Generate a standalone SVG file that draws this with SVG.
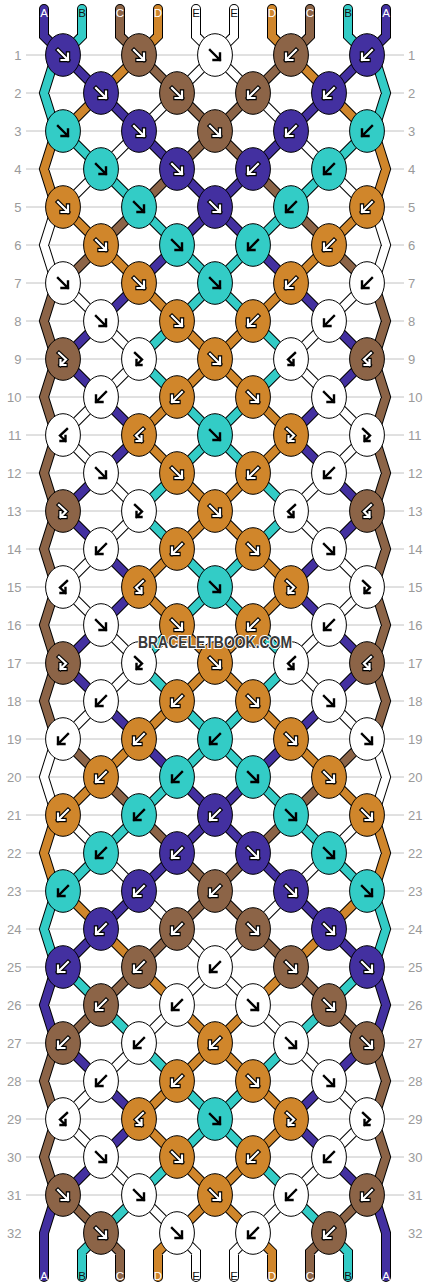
<svg xmlns="http://www.w3.org/2000/svg" xmlns:xlink="http://www.w3.org/1999/xlink" width="430" height="1288" viewBox="0 0 430 1288">
<style>
.grid{fill:none;stroke:#c2c2c2;stroke-width:1}
.num{font-family:"Liberation Sans",Arial,sans-serif;font-size:13px;fill:#9a9a9a}
.l{text-anchor:end}
.o{fill:none;stroke:#000;stroke-width:10;stroke-linecap:round;stroke-linejoin:miter}
.cA{fill:none;stroke:#4330a0;stroke-width:8;stroke-linecap:round}
.cB{fill:none;stroke:#33ccc6;stroke-width:8;stroke-linecap:round}
.cC{fill:none;stroke:#8c6447;stroke-width:8;stroke-linecap:round}
.cD{fill:none;stroke:#d0862b;stroke-width:8;stroke-linecap:round}
.cE{fill:none;stroke:#ffffff;stroke-width:8;stroke-linecap:round}
.lab{font-family:"Liberation Sans",Arial,sans-serif;font-size:11.5px;text-anchor:middle}
.lw{fill:#fff}.lk{fill:#111}
ellipse{stroke:#000;stroke-width:1}
.kA{fill:#4330a0}.kB{fill:#33ccc6}.kC{fill:#8c6447}.kD{fill:#d0862b}.kE{fill:#fff}
.ak{fill:none;stroke:#000;stroke-width:2.4;stroke-linecap:square}
.ao{fill:none;stroke:#000;stroke-width:4.4;stroke-linecap:square}
.aw{fill:none;stroke:#fff;stroke-width:2.2;stroke-linecap:square}
.wm{font-family:"Liberation Sans",Arial,sans-serif;font-weight:bold;font-size:16px;fill:#383838;stroke:#fff;stroke-width:2;paint-order:stroke;text-anchor:middle}
</style>
<defs>
<path id="pf" d="M-5-5L5 5M5-1.5V5H-1.5"/>
<path id="pb" d="M5-5L-5 5M-5-1.5V5H1.5"/>
<path id="pfb" d="M-4-6L3 0.5L-2.5 6M-2.5 1V6H2.5"/>
<path id="pbf" d="M4-6L-3 0.5L2.5 6M2.5 1V6H-2.5"/>
<g id="Fk"><use href="#pf" class="ak"/></g>
<g id="Fw"><use href="#pf" class="ao"/><use href="#pf" class="aw"/></g>
<g id="Bk"><use href="#pb" class="ak"/></g>
<g id="Bw"><use href="#pb" class="ao"/><use href="#pb" class="aw"/></g>
<g id="FBk"><use href="#pfb" class="ak"/></g>
<g id="FBw"><use href="#pfb" class="ao"/><use href="#pfb" class="aw"/></g>
<g id="BFk"><use href="#pbf" class="ak"/></g>
<g id="BFw"><use href="#pbf" class="ao"/><use href="#pbf" class="aw"/></g>
<path id="sA" d="M44 9V36L63 55M386 9V36L367 55M63 55l38 38M367 55l-38 38M101 93l38 38M329 93l-38 38M139 131l38 38M291 131l-38 38M177 169l38 38M253 169l-38 38M215 207l-38 38M215 207l38 38M177 245l-38 38M253 245l38 38M139 283l-38 38M291 283l38 38M101 321l-38 38M329 321l38 38M63 359l38 38M367 359l-38 38M101 397l38 38M329 397l-38 38M139 435l-38 38M291 435l38 38M101 473l-38 38M329 473l38 38M63 511l38 38M367 511l-38 38M101 549l38 38M329 549l-38 38M139 587l-38 38M291 587l38 38M101 625l-38 38M329 625l38 38M63 663l38 38M367 663l-38 38M101 701l38 38M329 701l-38 38M139 739l38 38M291 739l-38 38M177 777l38 38M253 777l-38 38M215 815l-38 38M215 815l38 38M177 853l-38 38M253 853l38 38M139 891l-38 38M291 891l38 38M101 929l-38 38M329 929l38 38M56 967L44 1005L56 1043M374 967L386 1005L374 1043M63 1043l38 38M367 1043l-38 38M101 1081l38 38M329 1081l-38 38M139 1119l-38 38M291 1119l38 38M101 1157l-38 38M329 1157l38 38M56 1195L44 1233V1277M374 1195L386 1233V1277"/>
<path id="sB" d="M82 9V36L63 55M348 9V36L367 55M56 55L44 93L56 131M374 55L386 93L374 131M63 131l38 38M367 131l-38 38M101 169l38 38M329 169l-38 38M139 207l38 38M291 207l-38 38M177 245l38 38M253 245l-38 38M215 283l-38 38M215 283l38 38M177 321l-38 38M253 321l38 38M139 359l38 38M291 359l-38 38M177 397l38 38M253 397l-38 38M215 435l-38 38M215 435l38 38M177 473l-38 38M253 473l38 38M139 511l38 38M291 511l-38 38M177 549l38 38M253 549l-38 38M215 587l-38 38M215 587l38 38M177 625l-38 38M253 625l38 38M139 663l38 38M291 663l-38 38M177 701l38 38M253 701l-38 38M215 739l-38 38M215 739l38 38M177 777l-38 38M253 777l38 38M139 815l-38 38M291 815l38 38M101 853l-38 38M329 853l38 38M56 891L44 929L56 967M374 891L386 929L374 967M63 967l38 38M367 967l-38 38M101 1005l38 38M329 1005l-38 38M139 1043l38 38M291 1043l-38 38M177 1081l38 38M253 1081l-38 38M215 1119l-38 38M215 1119l38 38M177 1157l-38 38M253 1157l38 38M139 1195l-38 38M291 1195l38 38M101 1233L82 1252V1277M329 1233L348 1252V1277"/>
<path id="sC" d="M120 9V36L139 55M310 9V36L291 55M139 55l38 38M291 55l-38 38M177 93l38 38M253 93l-38 38M215 131l-38 38M215 131l38 38M177 169l-38 38M253 169l38 38M139 207l-38 38M291 207l38 38M101 245l-38 38M329 245l38 38M56 283L44 321L56 359L44 397L56 435L44 473L56 511L44 549L56 587L44 625L56 663L44 701L56 739M374 283L386 321L374 359L386 397L374 435L386 473L374 511L386 549L374 587L386 625L374 663L386 701L374 739M63 739l38 38M367 739l-38 38M101 777l38 38M329 777l-38 38M139 815l38 38M291 815l-38 38M177 853l38 38M253 853l-38 38M215 891l-38 38M215 891l38 38M177 929l-38 38M253 929l38 38M139 967l-38 38M291 967l38 38M101 1005l-38 38M329 1005l38 38M56 1043L44 1081L56 1119L44 1157L56 1195M374 1043L386 1081L374 1119L386 1157L374 1195M63 1195l38 38M367 1195l-38 38M101 1233L120 1252V1277M329 1233L310 1252V1277"/>
<path id="sD" d="M158 9V36L139 55M272 9V36L291 55M139 55l-38 38M291 55l38 38M101 93l-38 38M329 93l38 38M56 131L44 169L56 207M374 131L386 169L374 207M63 207l38 38M367 207l-38 38M101 245l38 38M329 245l-38 38M139 283l38 38M291 283l-38 38M177 321l38 38M253 321l-38 38M215 359l-38 38M215 359l38 38M177 397l-38 38M253 397l38 38M139 435l38 38M291 435l-38 38M177 473l38 38M253 473l-38 38M215 511l-38 38M215 511l38 38M177 549l-38 38M253 549l38 38M139 587l38 38M291 587l-38 38M177 625l38 38M253 625l-38 38M215 663l-38 38M215 663l38 38M177 701l-38 38M253 701l38 38M139 739l-38 38M291 739l38 38M101 777l-38 38M329 777l38 38M56 815L44 853L56 891M374 815L386 853L374 891M63 891l38 38M367 891l-38 38M101 929l38 38M329 929l-38 38M139 967l38 38M291 967l-38 38M177 1005l38 38M253 1005l-38 38M215 1043l-38 38M215 1043l38 38M177 1081l-38 38M253 1081l38 38M139 1119l38 38M291 1119l-38 38M177 1157l38 38M253 1157l-38 38M215 1195l-38 38M215 1195l38 38M177 1233L158 1252V1277M253 1233L272 1252V1277"/>
<path id="sE" d="M196 9V36L215 55M234 9V36L215 55M215 55l-38 38M215 55l38 38M177 93l-38 38M253 93l38 38M139 131l-38 38M291 131l38 38M101 169l-38 38M329 169l38 38M56 207L44 245L56 283M374 207L386 245L374 283M63 283l38 38M367 283l-38 38M101 321l38 38M329 321l-38 38M139 359l-38 38M291 359l38 38M101 397l-38 38M329 397l38 38M63 435l38 38M367 435l-38 38M101 473l38 38M329 473l-38 38M139 511l-38 38M291 511l38 38M101 549l-38 38M329 549l38 38M63 587l38 38M367 587l-38 38M101 625l38 38M329 625l-38 38M139 663l-38 38M291 663l38 38M101 701l-38 38M329 701l38 38M56 739L44 777L56 815M374 739L386 777L374 815M63 815l38 38M367 815l-38 38M101 853l38 38M329 853l-38 38M139 891l38 38M291 891l-38 38M177 929l38 38M253 929l-38 38M215 967l-38 38M215 967l38 38M177 1005l-38 38M253 1005l38 38M139 1043l-38 38M291 1043l38 38M101 1081l-38 38M329 1081l38 38M63 1119l38 38M367 1119l-38 38M101 1157l38 38M329 1157l-38 38M139 1195l38 38M291 1195l-38 38M177 1233L196 1252V1277M253 1233L234 1252V1277"/>
</defs>
<rect width="430" height="1288" fill="#fff"/>
<g id="grid">
<path class="grid" d="M26 55h378m-378 38h378m-378 38h378m-378 38h378m-378 38h378m-378 38h378m-378 38h378m-378 38h378m-378 38h378m-378 38h378m-378 38h378m-378 38h378m-378 38h378m-378 38h378m-378 38h378m-378 38h378m-378 38h378m-378 38h378m-378 38h378m-378 38h378m-378 38h378m-378 38h378m-378 38h378m-378 38h378m-378 38h378m-378 38h378m-378 38h378m-378 38h378m-378 38h378m-378 38h378m-378 38h378"/>
</g>
<g id="row-numbers">
<text class="num l" x="21.5" y="59.5">1</text><text class="num" x="408" y="59.5">1</text>
<text class="num l" x="21.5" y="97.5">2</text><text class="num" x="408" y="97.5">2</text>
<text class="num l" x="21.5" y="135.5">3</text><text class="num" x="408" y="135.5">3</text>
<text class="num l" x="21.5" y="173.5">4</text><text class="num" x="408" y="173.5">4</text>
<text class="num l" x="21.5" y="211.5">5</text><text class="num" x="408" y="211.5">5</text>
<text class="num l" x="21.5" y="249.5">6</text><text class="num" x="408" y="249.5">6</text>
<text class="num l" x="21.5" y="287.5">7</text><text class="num" x="408" y="287.5">7</text>
<text class="num l" x="21.5" y="325.5">8</text><text class="num" x="408" y="325.5">8</text>
<text class="num l" x="21.5" y="363.5">9</text><text class="num" x="408" y="363.5">9</text>
<text class="num l" x="21.5" y="401.5">10</text><text class="num" x="408" y="401.5">10</text>
<text class="num l" x="21.5" y="439.5">11</text><text class="num" x="408" y="439.5">11</text>
<text class="num l" x="21.5" y="477.5">12</text><text class="num" x="408" y="477.5">12</text>
<text class="num l" x="21.5" y="515.5">13</text><text class="num" x="408" y="515.5">13</text>
<text class="num l" x="21.5" y="553.5">14</text><text class="num" x="408" y="553.5">14</text>
<text class="num l" x="21.5" y="591.5">15</text><text class="num" x="408" y="591.5">15</text>
<text class="num l" x="21.5" y="629.5">16</text><text class="num" x="408" y="629.5">16</text>
<text class="num l" x="21.5" y="667.5">17</text><text class="num" x="408" y="667.5">17</text>
<text class="num l" x="21.5" y="705.5">18</text><text class="num" x="408" y="705.5">18</text>
<text class="num l" x="21.5" y="743.5">19</text><text class="num" x="408" y="743.5">19</text>
<text class="num l" x="21.5" y="781.5">20</text><text class="num" x="408" y="781.5">20</text>
<text class="num l" x="21.5" y="819.5">21</text><text class="num" x="408" y="819.5">21</text>
<text class="num l" x="21.5" y="857.5">22</text><text class="num" x="408" y="857.5">22</text>
<text class="num l" x="21.5" y="895.5">23</text><text class="num" x="408" y="895.5">23</text>
<text class="num l" x="21.5" y="933.5">24</text><text class="num" x="408" y="933.5">24</text>
<text class="num l" x="21.5" y="971.5">25</text><text class="num" x="408" y="971.5">25</text>
<text class="num l" x="21.5" y="1009.5">26</text><text class="num" x="408" y="1009.5">26</text>
<text class="num l" x="21.5" y="1047.5">27</text><text class="num" x="408" y="1047.5">27</text>
<text class="num l" x="21.5" y="1085.5">28</text><text class="num" x="408" y="1085.5">28</text>
<text class="num l" x="21.5" y="1123.5">29</text><text class="num" x="408" y="1123.5">29</text>
<text class="num l" x="21.5" y="1161.5">30</text><text class="num" x="408" y="1161.5">30</text>
<text class="num l" x="21.5" y="1199.5">31</text><text class="num" x="408" y="1199.5">31</text>
<text class="num l" x="21.5" y="1237.5">32</text><text class="num" x="408" y="1237.5">32</text>
</g>
<g id="connectors">
<use href="#sA" class="o"/><use href="#sB" class="o"/><use href="#sC" class="o"/><use href="#sD" class="o"/><use href="#sE" class="o"/>
<use href="#sA" class="cA"/><use href="#sB" class="cB"/><use href="#sC" class="cC"/><use href="#sD" class="cD"/><use href="#sE" class="cE"/>
</g>
<g id="string-labels">
<text class="lab lw" x="44" y="16.5">A</text><text class="lab lk" x="82" y="16.5">B</text><text class="lab lw" x="120" y="16.5">C</text><text class="lab lw" x="158" y="16.5">D</text><text class="lab lk" x="196" y="16.5">E</text><text class="lab lk" x="234" y="16.5">E</text><text class="lab lw" x="272" y="16.5">D</text><text class="lab lw" x="310" y="16.5">C</text><text class="lab lk" x="348" y="16.5">B</text><text class="lab lw" x="386" y="16.5">A</text>
<text class="lab lw" x="44" y="1280">A</text><text class="lab lk" x="82" y="1280">B</text><text class="lab lw" x="120" y="1280">C</text><text class="lab lw" x="158" y="1280">D</text><text class="lab lk" x="196" y="1280">E</text><text class="lab lk" x="234" y="1280">E</text><text class="lab lw" x="272" y="1280">D</text><text class="lab lw" x="310" y="1280">C</text><text class="lab lk" x="348" y="1280">B</text><text class="lab lw" x="386" y="1280">A</text>
</g>
<g id="knots">
<g id="k1_1"><ellipse class="kA" cx="63" cy="55" rx="17.4" ry="21.3"/><use href="#Fw" x="63" y="55"/></g>
<g id="k1_2"><ellipse class="kC" cx="139" cy="55" rx="17.4" ry="21.3"/><use href="#Fw" x="139" y="55"/></g>
<g id="k1_3"><ellipse class="kE" cx="215" cy="55" rx="17.4" ry="21.3"/><use href="#Fk" x="215" y="55"/></g>
<g id="k1_4"><ellipse class="kC" cx="291" cy="55" rx="17.4" ry="21.3"/><use href="#Bw" x="291" y="55"/></g>
<g id="k1_5"><ellipse class="kA" cx="367" cy="55" rx="17.4" ry="21.3"/><use href="#Bw" x="367" y="55"/></g>
<g id="k2_1"><ellipse class="kA" cx="101" cy="93" rx="17.4" ry="21.3"/><use href="#Fw" x="101" y="93"/></g>
<g id="k2_2"><ellipse class="kC" cx="177" cy="93" rx="17.4" ry="21.3"/><use href="#Fw" x="177" y="93"/></g>
<g id="k2_3"><ellipse class="kC" cx="253" cy="93" rx="17.4" ry="21.3"/><use href="#Bw" x="253" y="93"/></g>
<g id="k2_4"><ellipse class="kA" cx="329" cy="93" rx="17.4" ry="21.3"/><use href="#Bw" x="329" y="93"/></g>
<g id="k3_1"><ellipse class="kB" cx="63" cy="131" rx="17.4" ry="21.3"/><use href="#Fk" x="63" y="131"/></g>
<g id="k3_2"><ellipse class="kA" cx="139" cy="131" rx="17.4" ry="21.3"/><use href="#Fw" x="139" y="131"/></g>
<g id="k3_3"><ellipse class="kC" cx="215" cy="131" rx="17.4" ry="21.3"/><use href="#Fw" x="215" y="131"/></g>
<g id="k3_4"><ellipse class="kA" cx="291" cy="131" rx="17.4" ry="21.3"/><use href="#Bw" x="291" y="131"/></g>
<g id="k3_5"><ellipse class="kB" cx="367" cy="131" rx="17.4" ry="21.3"/><use href="#Bk" x="367" y="131"/></g>
<g id="k4_1"><ellipse class="kB" cx="101" cy="169" rx="17.4" ry="21.3"/><use href="#Fk" x="101" y="169"/></g>
<g id="k4_2"><ellipse class="kA" cx="177" cy="169" rx="17.4" ry="21.3"/><use href="#Fw" x="177" y="169"/></g>
<g id="k4_3"><ellipse class="kA" cx="253" cy="169" rx="17.4" ry="21.3"/><use href="#Bw" x="253" y="169"/></g>
<g id="k4_4"><ellipse class="kB" cx="329" cy="169" rx="17.4" ry="21.3"/><use href="#Bk" x="329" y="169"/></g>
<g id="k5_1"><ellipse class="kD" cx="63" cy="207" rx="17.4" ry="21.3"/><use href="#Fw" x="63" y="207"/></g>
<g id="k5_2"><ellipse class="kB" cx="139" cy="207" rx="17.4" ry="21.3"/><use href="#Fk" x="139" y="207"/></g>
<g id="k5_3"><ellipse class="kA" cx="215" cy="207" rx="17.4" ry="21.3"/><use href="#Fw" x="215" y="207"/></g>
<g id="k5_4"><ellipse class="kB" cx="291" cy="207" rx="17.4" ry="21.3"/><use href="#Bk" x="291" y="207"/></g>
<g id="k5_5"><ellipse class="kD" cx="367" cy="207" rx="17.4" ry="21.3"/><use href="#Bw" x="367" y="207"/></g>
<g id="k6_1"><ellipse class="kD" cx="101" cy="245" rx="17.4" ry="21.3"/><use href="#Fw" x="101" y="245"/></g>
<g id="k6_2"><ellipse class="kB" cx="177" cy="245" rx="17.4" ry="21.3"/><use href="#Fk" x="177" y="245"/></g>
<g id="k6_3"><ellipse class="kB" cx="253" cy="245" rx="17.4" ry="21.3"/><use href="#Bk" x="253" y="245"/></g>
<g id="k6_4"><ellipse class="kD" cx="329" cy="245" rx="17.4" ry="21.3"/><use href="#Bw" x="329" y="245"/></g>
<g id="k7_1"><ellipse class="kE" cx="63" cy="283" rx="17.4" ry="21.3"/><use href="#Fk" x="63" y="283"/></g>
<g id="k7_2"><ellipse class="kD" cx="139" cy="283" rx="17.4" ry="21.3"/><use href="#Fw" x="139" y="283"/></g>
<g id="k7_3"><ellipse class="kB" cx="215" cy="283" rx="17.4" ry="21.3"/><use href="#Fk" x="215" y="283"/></g>
<g id="k7_4"><ellipse class="kD" cx="291" cy="283" rx="17.4" ry="21.3"/><use href="#Bw" x="291" y="283"/></g>
<g id="k7_5"><ellipse class="kE" cx="367" cy="283" rx="17.4" ry="21.3"/><use href="#Bk" x="367" y="283"/></g>
<g id="k8_1"><ellipse class="kE" cx="101" cy="321" rx="17.4" ry="21.3"/><use href="#Fk" x="101" y="321"/></g>
<g id="k8_2"><ellipse class="kD" cx="177" cy="321" rx="17.4" ry="21.3"/><use href="#Fw" x="177" y="321"/></g>
<g id="k8_3"><ellipse class="kD" cx="253" cy="321" rx="17.4" ry="21.3"/><use href="#Bw" x="253" y="321"/></g>
<g id="k8_4"><ellipse class="kE" cx="329" cy="321" rx="17.4" ry="21.3"/><use href="#Bk" x="329" y="321"/></g>
<g id="k9_1"><ellipse class="kC" cx="63" cy="359" rx="17.4" ry="21.3"/><use href="#FBw" x="63" y="359"/></g>
<g id="k9_2"><ellipse class="kE" cx="139" cy="359" rx="17.4" ry="21.3"/><use href="#FBk" x="139" y="359"/></g>
<g id="k9_3"><ellipse class="kD" cx="215" cy="359" rx="17.4" ry="21.3"/><use href="#Fw" x="215" y="359"/></g>
<g id="k9_4"><ellipse class="kE" cx="291" cy="359" rx="17.4" ry="21.3"/><use href="#BFk" x="291" y="359"/></g>
<g id="k9_5"><ellipse class="kC" cx="367" cy="359" rx="17.4" ry="21.3"/><use href="#BFw" x="367" y="359"/></g>
<g id="k10_1"><ellipse class="kE" cx="101" cy="397" rx="17.4" ry="21.3"/><use href="#Bk" x="101" y="397"/></g>
<g id="k10_2"><ellipse class="kD" cx="177" cy="397" rx="17.4" ry="21.3"/><use href="#Bw" x="177" y="397"/></g>
<g id="k10_3"><ellipse class="kD" cx="253" cy="397" rx="17.4" ry="21.3"/><use href="#Fw" x="253" y="397"/></g>
<g id="k10_4"><ellipse class="kE" cx="329" cy="397" rx="17.4" ry="21.3"/><use href="#Fk" x="329" y="397"/></g>
<g id="k11_1"><ellipse class="kE" cx="63" cy="435" rx="17.4" ry="21.3"/><use href="#BFk" x="63" y="435"/></g>
<g id="k11_2"><ellipse class="kD" cx="139" cy="435" rx="17.4" ry="21.3"/><use href="#BFw" x="139" y="435"/></g>
<g id="k11_3"><ellipse class="kB" cx="215" cy="435" rx="17.4" ry="21.3"/><use href="#Fk" x="215" y="435"/></g>
<g id="k11_4"><ellipse class="kD" cx="291" cy="435" rx="17.4" ry="21.3"/><use href="#FBw" x="291" y="435"/></g>
<g id="k11_5"><ellipse class="kE" cx="367" cy="435" rx="17.4" ry="21.3"/><use href="#FBk" x="367" y="435"/></g>
<g id="k12_1"><ellipse class="kE" cx="101" cy="473" rx="17.4" ry="21.3"/><use href="#Fk" x="101" y="473"/></g>
<g id="k12_2"><ellipse class="kD" cx="177" cy="473" rx="17.4" ry="21.3"/><use href="#Fw" x="177" y="473"/></g>
<g id="k12_3"><ellipse class="kD" cx="253" cy="473" rx="17.4" ry="21.3"/><use href="#Bw" x="253" y="473"/></g>
<g id="k12_4"><ellipse class="kE" cx="329" cy="473" rx="17.4" ry="21.3"/><use href="#Bk" x="329" y="473"/></g>
<g id="k13_1"><ellipse class="kC" cx="63" cy="511" rx="17.4" ry="21.3"/><use href="#FBw" x="63" y="511"/></g>
<g id="k13_2"><ellipse class="kE" cx="139" cy="511" rx="17.4" ry="21.3"/><use href="#FBk" x="139" y="511"/></g>
<g id="k13_3"><ellipse class="kD" cx="215" cy="511" rx="17.4" ry="21.3"/><use href="#Fw" x="215" y="511"/></g>
<g id="k13_4"><ellipse class="kE" cx="291" cy="511" rx="17.4" ry="21.3"/><use href="#BFk" x="291" y="511"/></g>
<g id="k13_5"><ellipse class="kC" cx="367" cy="511" rx="17.4" ry="21.3"/><use href="#BFw" x="367" y="511"/></g>
<g id="k14_1"><ellipse class="kE" cx="101" cy="549" rx="17.4" ry="21.3"/><use href="#Bk" x="101" y="549"/></g>
<g id="k14_2"><ellipse class="kD" cx="177" cy="549" rx="17.4" ry="21.3"/><use href="#Bw" x="177" y="549"/></g>
<g id="k14_3"><ellipse class="kD" cx="253" cy="549" rx="17.4" ry="21.3"/><use href="#Fw" x="253" y="549"/></g>
<g id="k14_4"><ellipse class="kE" cx="329" cy="549" rx="17.4" ry="21.3"/><use href="#Fk" x="329" y="549"/></g>
<g id="k15_1"><ellipse class="kE" cx="63" cy="587" rx="17.4" ry="21.3"/><use href="#BFk" x="63" y="587"/></g>
<g id="k15_2"><ellipse class="kD" cx="139" cy="587" rx="17.4" ry="21.3"/><use href="#BFw" x="139" y="587"/></g>
<g id="k15_3"><ellipse class="kB" cx="215" cy="587" rx="17.4" ry="21.3"/><use href="#Fk" x="215" y="587"/></g>
<g id="k15_4"><ellipse class="kD" cx="291" cy="587" rx="17.4" ry="21.3"/><use href="#FBw" x="291" y="587"/></g>
<g id="k15_5"><ellipse class="kE" cx="367" cy="587" rx="17.4" ry="21.3"/><use href="#FBk" x="367" y="587"/></g>
<g id="k16_1"><ellipse class="kE" cx="101" cy="625" rx="17.4" ry="21.3"/><use href="#Fk" x="101" y="625"/></g>
<g id="k16_2"><ellipse class="kD" cx="177" cy="625" rx="17.4" ry="21.3"/><use href="#Fw" x="177" y="625"/></g>
<g id="k16_3"><ellipse class="kD" cx="253" cy="625" rx="17.4" ry="21.3"/><use href="#Bw" x="253" y="625"/></g>
<g id="k16_4"><ellipse class="kE" cx="329" cy="625" rx="17.4" ry="21.3"/><use href="#Bk" x="329" y="625"/></g>
<g id="k17_1"><ellipse class="kC" cx="63" cy="663" rx="17.4" ry="21.3"/><use href="#FBw" x="63" y="663"/></g>
<g id="k17_2"><ellipse class="kE" cx="139" cy="663" rx="17.4" ry="21.3"/><use href="#FBk" x="139" y="663"/></g>
<g id="k17_3"><ellipse class="kD" cx="215" cy="663" rx="17.4" ry="21.3"/><use href="#Fw" x="215" y="663"/></g>
<g id="k17_4"><ellipse class="kE" cx="291" cy="663" rx="17.4" ry="21.3"/><use href="#BFk" x="291" y="663"/></g>
<g id="k17_5"><ellipse class="kC" cx="367" cy="663" rx="17.4" ry="21.3"/><use href="#BFw" x="367" y="663"/></g>
<g id="k18_1"><ellipse class="kE" cx="101" cy="701" rx="17.4" ry="21.3"/><use href="#Bk" x="101" y="701"/></g>
<g id="k18_2"><ellipse class="kD" cx="177" cy="701" rx="17.4" ry="21.3"/><use href="#Bw" x="177" y="701"/></g>
<g id="k18_3"><ellipse class="kD" cx="253" cy="701" rx="17.4" ry="21.3"/><use href="#Fw" x="253" y="701"/></g>
<g id="k18_4"><ellipse class="kE" cx="329" cy="701" rx="17.4" ry="21.3"/><use href="#Fk" x="329" y="701"/></g>
<g id="k19_1"><ellipse class="kE" cx="63" cy="739" rx="17.4" ry="21.3"/><use href="#Bk" x="63" y="739"/></g>
<g id="k19_2"><ellipse class="kD" cx="139" cy="739" rx="17.4" ry="21.3"/><use href="#Bw" x="139" y="739"/></g>
<g id="k19_3"><ellipse class="kB" cx="215" cy="739" rx="17.4" ry="21.3"/><use href="#Bk" x="215" y="739"/></g>
<g id="k19_4"><ellipse class="kD" cx="291" cy="739" rx="17.4" ry="21.3"/><use href="#Fw" x="291" y="739"/></g>
<g id="k19_5"><ellipse class="kE" cx="367" cy="739" rx="17.4" ry="21.3"/><use href="#Fk" x="367" y="739"/></g>
<g id="k20_1"><ellipse class="kD" cx="101" cy="777" rx="17.4" ry="21.3"/><use href="#Bw" x="101" y="777"/></g>
<g id="k20_2"><ellipse class="kB" cx="177" cy="777" rx="17.4" ry="21.3"/><use href="#Bk" x="177" y="777"/></g>
<g id="k20_3"><ellipse class="kB" cx="253" cy="777" rx="17.4" ry="21.3"/><use href="#Fk" x="253" y="777"/></g>
<g id="k20_4"><ellipse class="kD" cx="329" cy="777" rx="17.4" ry="21.3"/><use href="#Fw" x="329" y="777"/></g>
<g id="k21_1"><ellipse class="kD" cx="63" cy="815" rx="17.4" ry="21.3"/><use href="#Bw" x="63" y="815"/></g>
<g id="k21_2"><ellipse class="kB" cx="139" cy="815" rx="17.4" ry="21.3"/><use href="#Bk" x="139" y="815"/></g>
<g id="k21_3"><ellipse class="kA" cx="215" cy="815" rx="17.4" ry="21.3"/><use href="#Bw" x="215" y="815"/></g>
<g id="k21_4"><ellipse class="kB" cx="291" cy="815" rx="17.4" ry="21.3"/><use href="#Fk" x="291" y="815"/></g>
<g id="k21_5"><ellipse class="kD" cx="367" cy="815" rx="17.4" ry="21.3"/><use href="#Fw" x="367" y="815"/></g>
<g id="k22_1"><ellipse class="kB" cx="101" cy="853" rx="17.4" ry="21.3"/><use href="#Bk" x="101" y="853"/></g>
<g id="k22_2"><ellipse class="kA" cx="177" cy="853" rx="17.4" ry="21.3"/><use href="#Bw" x="177" y="853"/></g>
<g id="k22_3"><ellipse class="kA" cx="253" cy="853" rx="17.4" ry="21.3"/><use href="#Fw" x="253" y="853"/></g>
<g id="k22_4"><ellipse class="kB" cx="329" cy="853" rx="17.4" ry="21.3"/><use href="#Fk" x="329" y="853"/></g>
<g id="k23_1"><ellipse class="kB" cx="63" cy="891" rx="17.4" ry="21.3"/><use href="#Bk" x="63" y="891"/></g>
<g id="k23_2"><ellipse class="kA" cx="139" cy="891" rx="17.4" ry="21.3"/><use href="#Bw" x="139" y="891"/></g>
<g id="k23_3"><ellipse class="kC" cx="215" cy="891" rx="17.4" ry="21.3"/><use href="#Bw" x="215" y="891"/></g>
<g id="k23_4"><ellipse class="kA" cx="291" cy="891" rx="17.4" ry="21.3"/><use href="#Fw" x="291" y="891"/></g>
<g id="k23_5"><ellipse class="kB" cx="367" cy="891" rx="17.4" ry="21.3"/><use href="#Fk" x="367" y="891"/></g>
<g id="k24_1"><ellipse class="kA" cx="101" cy="929" rx="17.4" ry="21.3"/><use href="#Bw" x="101" y="929"/></g>
<g id="k24_2"><ellipse class="kC" cx="177" cy="929" rx="17.4" ry="21.3"/><use href="#Bw" x="177" y="929"/></g>
<g id="k24_3"><ellipse class="kC" cx="253" cy="929" rx="17.4" ry="21.3"/><use href="#Fw" x="253" y="929"/></g>
<g id="k24_4"><ellipse class="kA" cx="329" cy="929" rx="17.4" ry="21.3"/><use href="#Fw" x="329" y="929"/></g>
<g id="k25_1"><ellipse class="kA" cx="63" cy="967" rx="17.4" ry="21.3"/><use href="#Bw" x="63" y="967"/></g>
<g id="k25_2"><ellipse class="kC" cx="139" cy="967" rx="17.4" ry="21.3"/><use href="#Bw" x="139" y="967"/></g>
<g id="k25_3"><ellipse class="kE" cx="215" cy="967" rx="17.4" ry="21.3"/><use href="#Bk" x="215" y="967"/></g>
<g id="k25_4"><ellipse class="kC" cx="291" cy="967" rx="17.4" ry="21.3"/><use href="#Fw" x="291" y="967"/></g>
<g id="k25_5"><ellipse class="kA" cx="367" cy="967" rx="17.4" ry="21.3"/><use href="#Fw" x="367" y="967"/></g>
<g id="k26_1"><ellipse class="kC" cx="101" cy="1005" rx="17.4" ry="21.3"/><use href="#Bw" x="101" y="1005"/></g>
<g id="k26_2"><ellipse class="kE" cx="177" cy="1005" rx="17.4" ry="21.3"/><use href="#Bk" x="177" y="1005"/></g>
<g id="k26_3"><ellipse class="kE" cx="253" cy="1005" rx="17.4" ry="21.3"/><use href="#Fk" x="253" y="1005"/></g>
<g id="k26_4"><ellipse class="kC" cx="329" cy="1005" rx="17.4" ry="21.3"/><use href="#Fw" x="329" y="1005"/></g>
<g id="k27_1"><ellipse class="kC" cx="63" cy="1043" rx="17.4" ry="21.3"/><use href="#Bw" x="63" y="1043"/></g>
<g id="k27_2"><ellipse class="kE" cx="139" cy="1043" rx="17.4" ry="21.3"/><use href="#Bk" x="139" y="1043"/></g>
<g id="k27_3"><ellipse class="kD" cx="215" cy="1043" rx="17.4" ry="21.3"/><use href="#Bw" x="215" y="1043"/></g>
<g id="k27_4"><ellipse class="kE" cx="291" cy="1043" rx="17.4" ry="21.3"/><use href="#Fk" x="291" y="1043"/></g>
<g id="k27_5"><ellipse class="kC" cx="367" cy="1043" rx="17.4" ry="21.3"/><use href="#Fw" x="367" y="1043"/></g>
<g id="k28_1"><ellipse class="kE" cx="101" cy="1081" rx="17.4" ry="21.3"/><use href="#Bk" x="101" y="1081"/></g>
<g id="k28_2"><ellipse class="kD" cx="177" cy="1081" rx="17.4" ry="21.3"/><use href="#Bw" x="177" y="1081"/></g>
<g id="k28_3"><ellipse class="kD" cx="253" cy="1081" rx="17.4" ry="21.3"/><use href="#Fw" x="253" y="1081"/></g>
<g id="k28_4"><ellipse class="kE" cx="329" cy="1081" rx="17.4" ry="21.3"/><use href="#Fk" x="329" y="1081"/></g>
<g id="k29_1"><ellipse class="kE" cx="63" cy="1119" rx="17.4" ry="21.3"/><use href="#BFk" x="63" y="1119"/></g>
<g id="k29_2"><ellipse class="kD" cx="139" cy="1119" rx="17.4" ry="21.3"/><use href="#BFw" x="139" y="1119"/></g>
<g id="k29_3"><ellipse class="kB" cx="215" cy="1119" rx="17.4" ry="21.3"/><use href="#Fk" x="215" y="1119"/></g>
<g id="k29_4"><ellipse class="kD" cx="291" cy="1119" rx="17.4" ry="21.3"/><use href="#FBw" x="291" y="1119"/></g>
<g id="k29_5"><ellipse class="kE" cx="367" cy="1119" rx="17.4" ry="21.3"/><use href="#FBk" x="367" y="1119"/></g>
<g id="k30_1"><ellipse class="kE" cx="101" cy="1157" rx="17.4" ry="21.3"/><use href="#Fk" x="101" y="1157"/></g>
<g id="k30_2"><ellipse class="kD" cx="177" cy="1157" rx="17.4" ry="21.3"/><use href="#Fw" x="177" y="1157"/></g>
<g id="k30_3"><ellipse class="kD" cx="253" cy="1157" rx="17.4" ry="21.3"/><use href="#Bw" x="253" y="1157"/></g>
<g id="k30_4"><ellipse class="kE" cx="329" cy="1157" rx="17.4" ry="21.3"/><use href="#Bk" x="329" y="1157"/></g>
<g id="k31_1"><ellipse class="kC" cx="63" cy="1195" rx="17.4" ry="21.3"/><use href="#Fw" x="63" y="1195"/></g>
<g id="k31_2"><ellipse class="kE" cx="139" cy="1195" rx="17.4" ry="21.3"/><use href="#Fk" x="139" y="1195"/></g>
<g id="k31_3"><ellipse class="kD" cx="215" cy="1195" rx="17.4" ry="21.3"/><use href="#Fw" x="215" y="1195"/></g>
<g id="k31_4"><ellipse class="kE" cx="291" cy="1195" rx="17.4" ry="21.3"/><use href="#Bk" x="291" y="1195"/></g>
<g id="k31_5"><ellipse class="kC" cx="367" cy="1195" rx="17.4" ry="21.3"/><use href="#Bw" x="367" y="1195"/></g>
<g id="k32_1"><ellipse class="kC" cx="101" cy="1233" rx="17.4" ry="21.3"/><use href="#Fw" x="101" y="1233"/></g>
<g id="k32_2"><ellipse class="kE" cx="177" cy="1233" rx="17.4" ry="21.3"/><use href="#Fk" x="177" y="1233"/></g>
<g id="k32_3"><ellipse class="kE" cx="253" cy="1233" rx="17.4" ry="21.3"/><use href="#Bk" x="253" y="1233"/></g>
<g id="k32_4"><ellipse class="kC" cx="329" cy="1233" rx="17.4" ry="21.3"/><use href="#Bw" x="329" y="1233"/></g>
</g>
<text class="wm" x="215" y="648" textLength="154" lengthAdjust="spacingAndGlyphs">BRACELETBOOK.COM</text>
</svg>
